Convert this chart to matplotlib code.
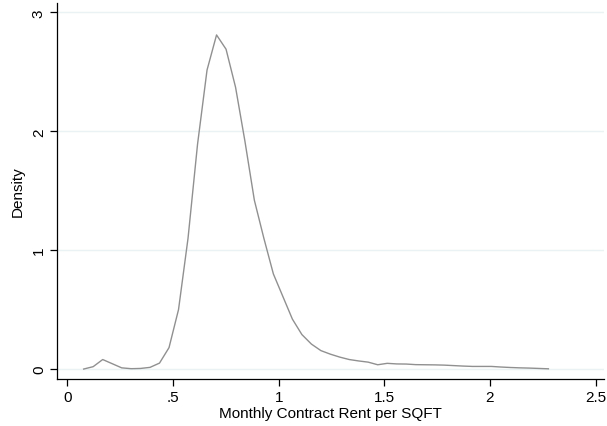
import matplotlib
matplotlib.use('Agg')
import matplotlib.pyplot as plt

# kernel density estimate, 50 evaluation points
rent = [0.077, 0.122, 0.167, 0.212, 0.257, 0.302, 0.346, 0.391, 0.436, 0.481,
        0.526, 0.571, 0.616, 0.661, 0.706, 0.751, 0.796, 0.840, 0.885, 0.930,
        0.975, 1.020, 1.065, 1.110, 1.155, 1.200, 1.245, 1.290, 1.334, 1.379,
        1.424, 1.469, 1.514, 1.559, 1.604, 1.649, 1.693, 1.738, 1.783, 1.828,
        1.873, 1.918, 1.962, 2.007, 2.052, 2.097, 2.142, 2.187, 2.232, 2.277]
density = [0.0, 0.02, 0.08, 0.045, 0.01, 0.003, 0.005, 0.014, 0.05, 0.18,
           0.50, 1.10, 1.89, 2.515, 2.81, 2.69, 2.37, 1.92, 1.42, 1.10,
           0.80, 0.61, 0.42, 0.29, 0.21, 0.155, 0.125, 0.10, 0.08, 0.068,
           0.058, 0.036, 0.048, 0.043, 0.042, 0.037, 0.036, 0.035, 0.033, 0.029,
           0.025, 0.022, 0.022, 0.022, 0.017, 0.013, 0.010, 0.008, 0.005, 0.002]

xticks = [0, 0.5, 1, 1.5, 2, 2.5]
xticklabels = ['0', '.5', '1', '1.5', '2', '2.5']
yticks = [0, 1, 2, 3]

plt.rcParams['font.family'] = ['Liberation Sans', 'DejaVu Sans']

fig = plt.figure(figsize=(6.07, 4.27), dpi=100)
ax = fig.add_axes([0.094, 0.110, 0.901, 0.881])

ax.plot(rent, density, color='#909090', linewidth=1.0, zorder=3)

ax.set_xlim(-0.049, 2.54)
ax.set_ylim(-0.084, 3.08)
ax.set_xticks(xticks)
ax.set_xticklabels(xticklabels)
ax.set_yticks(yticks)
ax.set_yticklabels([str(t) for t in yticks], rotation=90, va='center')
ax.grid(axis='y', color='#eaf2f3', linewidth=1, zorder=0)
ax.tick_params(direction='out', length=5, width=0.9, labelsize=11, pad=3)

for side in ['top', 'right']:
    ax.spines[side].set_visible(False)
for side in ['left', 'bottom']:
    ax.spines[side].set_linewidth(0.9)

ax.set_xlabel('Monthly Contract Rent per SQFT', fontsize=11, labelpad=1)
ax.set_ylabel('Density', fontsize=11, labelpad=5)

fig.savefig('out.png', dpi=100, facecolor='white')
